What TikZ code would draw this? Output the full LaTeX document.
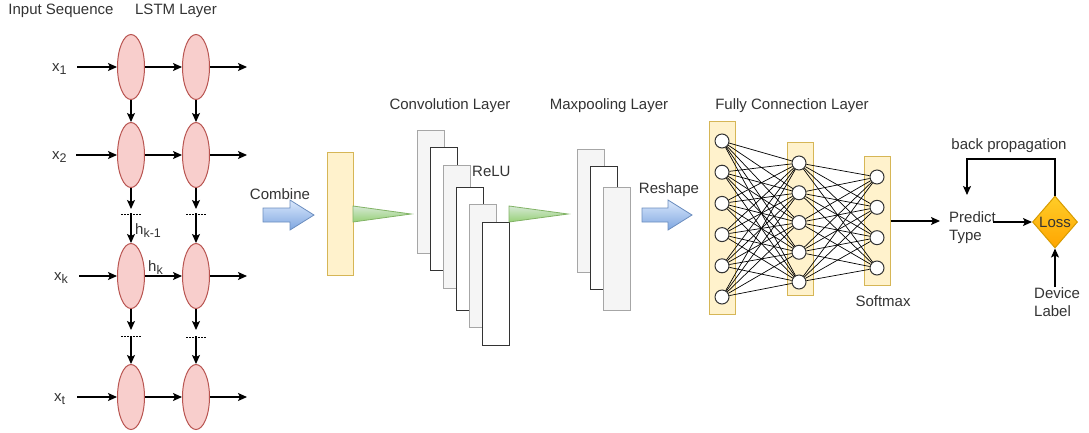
\documentclass[tikz,border=0pt]{standalone}
\usepackage{fontspec}
\setmainfont{Liberation Sans}
\usetikzlibrary{arrows.meta,shapes.geometric}
\definecolor{ellF}{HTML}{F8CECC}
\definecolor{ellD}{HTML}{B85450}
\definecolor{yelF}{HTML}{FFF2CC}
\definecolor{yelD}{HTML}{D6B656}
\definecolor{bluT}{HTML}{DAE8FC}
\definecolor{bluB}{HTML}{7EA6E0}
\definecolor{bluD}{HTML}{6C8EBF}
\definecolor{grnT}{HTML}{D5E8D4}
\definecolor{grnB}{HTML}{97D077}
\definecolor{grnD}{HTML}{82B366}
\definecolor{grayF}{HTML}{F5F5F5}
\definecolor{grayD}{HTML}{A6A6A6}
\definecolor{darkD}{HTML}{333333}
\definecolor{txt}{HTML}{333333}
\definecolor{orT}{HTML}{FFCD28}
\definecolor{orB}{HTML}{FFA500}
\definecolor{orD}{HTML}{D79B00}
\newcommand\mysub[1]{\raisebox{-3.5pt}{\fontsize{12.5}{14}\selectfont #1}}
\begin{document}
\begin{tikzpicture}[x=1pt,y=-1pt,
  lbl/.style={font=\fontsize{15}{18}\selectfont, text=txt, inner sep=0pt},
  ell/.style={ellipse, draw=ellD, fill=ellF, line width=1pt, minimum width=27pt, minimum height=65pt, inner sep=0pt},
  arr/.style={-{Stealth[length=9pt,width=8pt,inset=2pt]}, line width=1.2pt, draw=black},
  dots/.style={dash pattern=on 1.5pt off 1.5pt, line width=1pt, draw=black},
  grayrect/.style={draw=grayD, fill=grayF, line width=1.2pt, minimum width=27pt, minimum height=123pt, inner sep=0pt, anchor=north west},
  whiterect/.style={draw=darkD, fill=white, line width=1.1pt, minimum width=27pt, minimum height=123pt, inner sep=0pt, anchor=north west},
  bar/.style={draw=yelD, fill=yelF, line width=1pt, inner sep=0pt, minimum width=26pt},
  neur/.style={circle, draw=darkD, fill=white, line width=1pt, minimum size=14pt, inner sep=0pt},
  conn/.style={line width=0.7pt, draw=black},
  bluearrow/.style={draw=bluD, top color=bluT, bottom color=bluB, line width=0.8pt},
  greentri/.style={draw=grnD, top color=grnT, bottom color=grnB, line width=0.8pt},
]
\useasboundingbox (0,0) rectangle (1089,432);

% titles
\node[lbl] (tin) at (61,11) {Input Sequence};
\node[lbl] (tlstm) at (176,11) {LSTM Layer};
\node[lbl] (tconv) at (450,106) {Convolution Layer};
\node[lbl] (tmax) at (609,106) {Maxpooling Layer};
\node[lbl] (tfc) at (792,106) {Fully Connection Layer};

% LSTM cells
\foreach \r/\y in {1/67,2/155,k/276,t/397}{
  \node[ell] (a\r) at (131,\y) {};
  \node[ell] (b\r) at (196,\y) {};
}
% input labels
\node[lbl, anchor=base west] (x1) at (52,71) {x\mysub{1}};
\node[lbl, anchor=base west] (x2) at (52,159) {x\mysub{2}};
\node[lbl, anchor=base west] (xk) at (54,280) {x\mysub{k}};
\node[lbl, anchor=base west] (xt) at (54,401) {x\mysub{t}};
\coordinate (s1) at (77,67);  \coordinate (s2) at (76,155);
\coordinate (sk) at (79,276); \coordinate (st) at (77,397);
\foreach \r in {1,2,k,t}{
  \draw[arr] (s\r) -- (a\r);
  \draw[arr] (a\r) -- (b\r);
}
\coordinate (o1) at (247,67);  \coordinate (o2) at (247,155);
\coordinate (ok) at (247,276); \coordinate (ot) at (247,397);
\foreach \r in {1,2,k,t}{ \draw[arr] (b\r) -- (o\r); }
% vertical
\draw[arr] (a1) -- (a2);
\draw[arr] (b1) -- (b2);
\coordinate (pa) at (131,209); \coordinate (pb) at (196,209);
\coordinate (qa) at (131,213); \coordinate (qb) at (196,213);
\draw[arr] (a2) -- (pa); \draw[arr] (b2) -- (pb);
\draw[dots] (121,214) -- (141,214);
\draw[dots] (186,214) -- (206,214);
\draw[arr] (qa) -- (ak); \draw[arr] (qb) -- (bk);
\coordinate (ra) at (131,330); \coordinate (rb) at (196,330);
\coordinate (ua) at (131,336); \coordinate (ub) at (196,336);
\draw[arr] (ak) -- (ra); \draw[arr] (bk) -- (rb);
\draw[dots] (121,336) -- (141,336);
\draw[dots] (186,337) -- (206,337);
\draw[arr] (ua) -- (at); \draw[arr] (ub) -- (bt);
\node[lbl, anchor=base west] (hk1) at (135,234) {h\mysub{k-1}};
\node[lbl, anchor=base west] (hk) at (148,271) {h\mysub{k}};

% combine
\node[lbl] (comb) at (280,194) {Combine};
\path[bluearrow] (263,208) -- (290,208) -- (290,200) -- (314,215) -- (290,230) -- (290,222) -- (263,222) -- cycle;
\node[bar, minimum height=123pt] (yb) at (340,213.5) {};
\path[greentri] (353,206) -- (411,214) -- (353,222) -- cycle;

% convolution
\node[grayrect]  (c1) at (417,130) {};
\node[whiterect] (c2) at (430,147) {};
\node[grayrect]  (c3) at (443,165) {};
\node[whiterect] (c4) at (456,187) {};
\node[grayrect]  (c5) at (469,204) {};
\node[whiterect] (c6) at (482,222) {};
\node[lbl, anchor=west] (relu) at (472,171) {ReLU};
\path[greentri] (509,206) -- (568,214) -- (509,222) -- cycle;

% maxpooling
\node[grayrect]  (m1) at (577,149) {};
\node[whiterect] (m2) at (590,166) {};
\node[grayrect]  (m3) at (603,187) {};
\node[lbl] (resh) at (669,190) {Reshape};
\path[bluearrow] (642,208) -- (668,208) -- (668,200) -- (692,215) -- (668,230) -- (668,222) -- (642,222) -- cycle;

% fully connected
\node[bar, minimum height=193pt] (f1) at (722,217.5) {};
\node[bar, minimum height=153pt] (f2) at (800,218.5) {};
\node[bar, minimum height=129pt] (f3) at (877,221) {};
\foreach \i in {1,...,6}{ \node[neur] (n1\i) at (722,{141+31.2*(\i-1)}) {}; }
\foreach \i in {1,...,5}{ \node[neur] (n2\i) at (799,{163+29.75*(\i-1)}) {}; }
\foreach \i in {1,...,4}{ \node[neur] (n3\i) at (877,{177+30.33*(\i-1)}) {}; }
\foreach \i in {1,...,6}{ \foreach \j in {1,...,5}{ \draw[conn] (n1\i) -- (n2\j); } }
\foreach \i in {1,...,5}{ \foreach \j in {1,...,4}{ \draw[conn] (n2\i) -- (n3\j); } }
\node[lbl] (smx) at (883,301) {Softmax};

% output
\coordinate (po) at (940,221);
\draw[arr] (f3.east) -- (po);
\node[lbl, align=left, anchor=west] (pred) at (949,228) {Predict\\Type};
\node[diamond, draw=orD, top color=orT, bottom color=orB, minimum width=45pt, minimum height=52pt, inner sep=0pt, line width=1pt, font=\fontsize{15}{18}\selectfont, text=txt] (loss) at (1055,222) {Loss};
\coordinate (ps) at (993,222);
\draw[arr] (ps) -- (loss);
\coordinate (bpc) at (967,159);
\coordinate (bp) at (967,195);
\draw[arr] (loss.north) |- (bpc) -- (bp);
\node[lbl] (bpt) at (1009,146) {back propagation};
\node[lbl, align=left, anchor=north west] (dev) at (1034,287) {Device\\Label};
\draw[arr] (dev.north -| loss.south) -- (loss.south);
\end{tikzpicture}
\end{document}
